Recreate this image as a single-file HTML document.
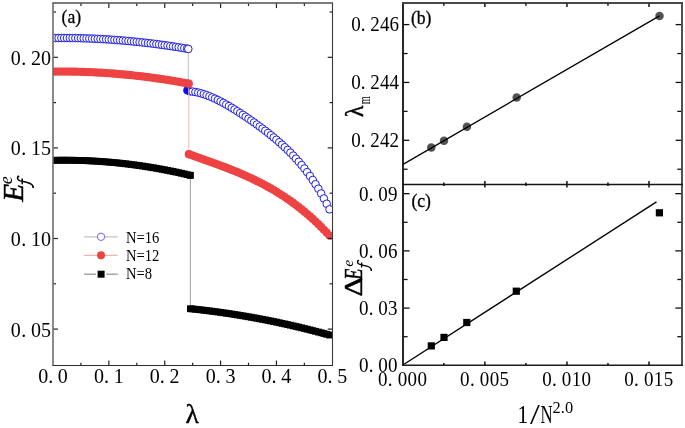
<!DOCTYPE html>
<html><head><meta charset="utf-8"><style>
html,body{margin:0;padding:0;background:#fff;width:685px;height:428px;overflow:hidden}
svg{display:block}
#w{transform:translateZ(0);width:685px;height:428px}
text{font-family:"Liberation Serif",serif}
</style></head><body><div id="w">
<svg width="685" height="428" viewBox="0 0 685 428">
<defs><clipPath id="ca"><rect x="53.6" y="3.6" width="278.4" height="361.2"/></clipPath></defs>
<g clip-path="url(#ca)">
<polyline fill="none" stroke="#c4c4c4" stroke-width="1.1" points="53.00,38.05 55.79,38.02 58.59,38.00 61.38,37.99 64.17,38.00 66.97,38.01 69.76,38.03 72.55,38.07 75.34,38.11 78.14,38.17 80.93,38.24 83.72,38.31 86.52,38.40 89.31,38.50 92.10,38.61 94.90,38.73 97.69,38.86 100.48,39.00 103.27,39.16 106.07,39.32 108.86,39.49 111.65,39.68 114.45,39.87 117.24,40.08 120.03,40.30 122.83,40.52 125.62,40.76 128.41,41.01 131.20,41.27 134.00,41.54 136.79,41.82 139.58,42.11 142.38,42.41 145.17,42.72 147.96,43.05 150.75,43.38 153.55,43.73 156.34,44.08 159.13,44.45 161.93,44.83 164.72,45.21 167.51,45.61 170.31,46.02 173.10,46.44 175.89,46.87 178.69,47.31 181.48,47.76 184.27,48.23 187.06,48.70 188.30,48.91 188.30,91.28 189.86,91.34 192.65,91.60 195.44,92.02 198.24,92.60 201.03,93.32 203.82,94.18 206.62,95.15 209.41,96.23 212.20,97.42 214.99,98.69 217.79,100.04 220.58,101.47 223.37,102.97 226.17,104.53 228.96,106.14 231.75,107.80 234.55,109.51 237.34,111.26 240.13,113.05 242.92,114.88 245.72,116.74 248.51,118.63 251.30,120.56 254.10,122.53 256.89,124.53 259.68,126.57 262.48,128.65 265.27,130.77 268.06,132.94 270.85,135.17 273.65,137.45 276.44,139.79 279.23,142.21 282.03,144.70 284.82,147.27 287.61,149.95 290.40,152.72 293.20,155.61 295.99,158.62 298.78,161.77 301.58,165.07 304.37,168.53 307.16,172.16 309.96,175.99 312.75,180.01 315.54,184.26 318.34,188.74 321.13,193.47 323.92,198.48 326.71,203.77 329.51,209.37"/>
<circle cx="53.00" cy="38.05" r="3.8" fill="#fff" stroke="#1212e6" stroke-width="0.95"/>
<circle cx="55.79" cy="38.02" r="3.8" fill="#fff" stroke="#1212e6" stroke-width="0.95"/>
<circle cx="58.59" cy="38.00" r="3.8" fill="#fff" stroke="#1212e6" stroke-width="0.95"/>
<circle cx="61.38" cy="37.99" r="3.8" fill="#fff" stroke="#1212e6" stroke-width="0.95"/>
<circle cx="64.17" cy="38.00" r="3.8" fill="#fff" stroke="#1212e6" stroke-width="0.95"/>
<circle cx="66.97" cy="38.01" r="3.8" fill="#fff" stroke="#1212e6" stroke-width="0.95"/>
<circle cx="69.76" cy="38.03" r="3.8" fill="#fff" stroke="#1212e6" stroke-width="0.95"/>
<circle cx="72.55" cy="38.07" r="3.8" fill="#fff" stroke="#1212e6" stroke-width="0.95"/>
<circle cx="75.34" cy="38.11" r="3.8" fill="#fff" stroke="#1212e6" stroke-width="0.95"/>
<circle cx="78.14" cy="38.17" r="3.8" fill="#fff" stroke="#1212e6" stroke-width="0.95"/>
<circle cx="80.93" cy="38.24" r="3.8" fill="#fff" stroke="#1212e6" stroke-width="0.95"/>
<circle cx="83.72" cy="38.31" r="3.8" fill="#fff" stroke="#1212e6" stroke-width="0.95"/>
<circle cx="86.52" cy="38.40" r="3.8" fill="#fff" stroke="#1212e6" stroke-width="0.95"/>
<circle cx="89.31" cy="38.50" r="3.8" fill="#fff" stroke="#1212e6" stroke-width="0.95"/>
<circle cx="92.10" cy="38.61" r="3.8" fill="#fff" stroke="#1212e6" stroke-width="0.95"/>
<circle cx="94.90" cy="38.73" r="3.8" fill="#fff" stroke="#1212e6" stroke-width="0.95"/>
<circle cx="97.69" cy="38.86" r="3.8" fill="#fff" stroke="#1212e6" stroke-width="0.95"/>
<circle cx="100.48" cy="39.00" r="3.8" fill="#fff" stroke="#1212e6" stroke-width="0.95"/>
<circle cx="103.27" cy="39.16" r="3.8" fill="#fff" stroke="#1212e6" stroke-width="0.95"/>
<circle cx="106.07" cy="39.32" r="3.8" fill="#fff" stroke="#1212e6" stroke-width="0.95"/>
<circle cx="108.86" cy="39.49" r="3.8" fill="#fff" stroke="#1212e6" stroke-width="0.95"/>
<circle cx="111.65" cy="39.68" r="3.8" fill="#fff" stroke="#1212e6" stroke-width="0.95"/>
<circle cx="114.45" cy="39.87" r="3.8" fill="#fff" stroke="#1212e6" stroke-width="0.95"/>
<circle cx="117.24" cy="40.08" r="3.8" fill="#fff" stroke="#1212e6" stroke-width="0.95"/>
<circle cx="120.03" cy="40.30" r="3.8" fill="#fff" stroke="#1212e6" stroke-width="0.95"/>
<circle cx="122.83" cy="40.52" r="3.8" fill="#fff" stroke="#1212e6" stroke-width="0.95"/>
<circle cx="125.62" cy="40.76" r="3.8" fill="#fff" stroke="#1212e6" stroke-width="0.95"/>
<circle cx="128.41" cy="41.01" r="3.8" fill="#fff" stroke="#1212e6" stroke-width="0.95"/>
<circle cx="131.20" cy="41.27" r="3.8" fill="#fff" stroke="#1212e6" stroke-width="0.95"/>
<circle cx="134.00" cy="41.54" r="3.8" fill="#fff" stroke="#1212e6" stroke-width="0.95"/>
<circle cx="136.79" cy="41.82" r="3.8" fill="#fff" stroke="#1212e6" stroke-width="0.95"/>
<circle cx="139.58" cy="42.11" r="3.8" fill="#fff" stroke="#1212e6" stroke-width="0.95"/>
<circle cx="142.38" cy="42.41" r="3.8" fill="#fff" stroke="#1212e6" stroke-width="0.95"/>
<circle cx="145.17" cy="42.72" r="3.8" fill="#fff" stroke="#1212e6" stroke-width="0.95"/>
<circle cx="147.96" cy="43.05" r="3.8" fill="#fff" stroke="#1212e6" stroke-width="0.95"/>
<circle cx="150.75" cy="43.38" r="3.8" fill="#fff" stroke="#1212e6" stroke-width="0.95"/>
<circle cx="153.55" cy="43.73" r="3.8" fill="#fff" stroke="#1212e6" stroke-width="0.95"/>
<circle cx="156.34" cy="44.08" r="3.8" fill="#fff" stroke="#1212e6" stroke-width="0.95"/>
<circle cx="159.13" cy="44.45" r="3.8" fill="#fff" stroke="#1212e6" stroke-width="0.95"/>
<circle cx="161.93" cy="44.83" r="3.8" fill="#fff" stroke="#1212e6" stroke-width="0.95"/>
<circle cx="164.72" cy="45.21" r="3.8" fill="#fff" stroke="#1212e6" stroke-width="0.95"/>
<circle cx="167.51" cy="45.61" r="3.8" fill="#fff" stroke="#1212e6" stroke-width="0.95"/>
<circle cx="170.31" cy="46.02" r="3.8" fill="#fff" stroke="#1212e6" stroke-width="0.95"/>
<circle cx="173.10" cy="46.44" r="3.8" fill="#fff" stroke="#1212e6" stroke-width="0.95"/>
<circle cx="175.89" cy="46.87" r="3.8" fill="#fff" stroke="#1212e6" stroke-width="0.95"/>
<circle cx="178.69" cy="47.31" r="3.8" fill="#fff" stroke="#1212e6" stroke-width="0.95"/>
<circle cx="181.48" cy="47.76" r="3.8" fill="#fff" stroke="#1212e6" stroke-width="0.95"/>
<circle cx="184.27" cy="48.23" r="3.8" fill="#fff" stroke="#1212e6" stroke-width="0.95"/>
<circle cx="187.06" cy="48.70" r="3.8" fill="#fff" stroke="#1212e6" stroke-width="0.95"/>
<circle cx="188.30" cy="48.91" r="3.8" fill="#fff" stroke="#1212e6" stroke-width="0.95"/>
<circle cx="189.86" cy="91.34" r="3.8" fill="#fff" stroke="#1212e6" stroke-width="0.95"/>
<circle cx="187.40" cy="90.40" r="3.8" fill="#0a0af0" stroke="#1212e6" stroke-width="0.95"/>
<circle cx="192.65" cy="91.60" r="3.8" fill="#fff" stroke="#1212e6" stroke-width="0.95"/>
<circle cx="195.44" cy="92.02" r="3.8" fill="#fff" stroke="#1212e6" stroke-width="0.95"/>
<circle cx="198.24" cy="92.60" r="3.8" fill="#fff" stroke="#1212e6" stroke-width="0.95"/>
<circle cx="201.03" cy="93.32" r="3.8" fill="#fff" stroke="#1212e6" stroke-width="0.95"/>
<circle cx="203.82" cy="94.18" r="3.8" fill="#fff" stroke="#1212e6" stroke-width="0.95"/>
<circle cx="206.62" cy="95.15" r="3.8" fill="#fff" stroke="#1212e6" stroke-width="0.95"/>
<circle cx="209.41" cy="96.23" r="3.8" fill="#fff" stroke="#1212e6" stroke-width="0.95"/>
<circle cx="212.20" cy="97.42" r="3.8" fill="#fff" stroke="#1212e6" stroke-width="0.95"/>
<circle cx="214.99" cy="98.69" r="3.8" fill="#fff" stroke="#1212e6" stroke-width="0.95"/>
<circle cx="217.79" cy="100.04" r="3.8" fill="#fff" stroke="#1212e6" stroke-width="0.95"/>
<circle cx="220.58" cy="101.47" r="3.8" fill="#fff" stroke="#1212e6" stroke-width="0.95"/>
<circle cx="223.37" cy="102.97" r="3.8" fill="#fff" stroke="#1212e6" stroke-width="0.95"/>
<circle cx="226.17" cy="104.53" r="3.8" fill="#fff" stroke="#1212e6" stroke-width="0.95"/>
<circle cx="228.96" cy="106.14" r="3.8" fill="#fff" stroke="#1212e6" stroke-width="0.95"/>
<circle cx="231.75" cy="107.80" r="3.8" fill="#fff" stroke="#1212e6" stroke-width="0.95"/>
<circle cx="234.55" cy="109.51" r="3.8" fill="#fff" stroke="#1212e6" stroke-width="0.95"/>
<circle cx="237.34" cy="111.26" r="3.8" fill="#fff" stroke="#1212e6" stroke-width="0.95"/>
<circle cx="240.13" cy="113.05" r="3.8" fill="#fff" stroke="#1212e6" stroke-width="0.95"/>
<circle cx="242.92" cy="114.88" r="3.8" fill="#fff" stroke="#1212e6" stroke-width="0.95"/>
<circle cx="245.72" cy="116.74" r="3.8" fill="#fff" stroke="#1212e6" stroke-width="0.95"/>
<circle cx="248.51" cy="118.63" r="3.8" fill="#fff" stroke="#1212e6" stroke-width="0.95"/>
<circle cx="251.30" cy="120.56" r="3.8" fill="#fff" stroke="#1212e6" stroke-width="0.95"/>
<circle cx="254.10" cy="122.53" r="3.8" fill="#fff" stroke="#1212e6" stroke-width="0.95"/>
<circle cx="256.89" cy="124.53" r="3.8" fill="#fff" stroke="#1212e6" stroke-width="0.95"/>
<circle cx="259.68" cy="126.57" r="3.8" fill="#fff" stroke="#1212e6" stroke-width="0.95"/>
<circle cx="262.48" cy="128.65" r="3.8" fill="#fff" stroke="#1212e6" stroke-width="0.95"/>
<circle cx="265.27" cy="130.77" r="3.8" fill="#fff" stroke="#1212e6" stroke-width="0.95"/>
<circle cx="268.06" cy="132.94" r="3.8" fill="#fff" stroke="#1212e6" stroke-width="0.95"/>
<circle cx="270.85" cy="135.17" r="3.8" fill="#fff" stroke="#1212e6" stroke-width="0.95"/>
<circle cx="273.65" cy="137.45" r="3.8" fill="#fff" stroke="#1212e6" stroke-width="0.95"/>
<circle cx="276.44" cy="139.79" r="3.8" fill="#fff" stroke="#1212e6" stroke-width="0.95"/>
<circle cx="279.23" cy="142.21" r="3.8" fill="#fff" stroke="#1212e6" stroke-width="0.95"/>
<circle cx="282.03" cy="144.70" r="3.8" fill="#fff" stroke="#1212e6" stroke-width="0.95"/>
<circle cx="284.82" cy="147.27" r="3.8" fill="#fff" stroke="#1212e6" stroke-width="0.95"/>
<circle cx="287.61" cy="149.95" r="3.8" fill="#fff" stroke="#1212e6" stroke-width="0.95"/>
<circle cx="290.40" cy="152.72" r="3.8" fill="#fff" stroke="#1212e6" stroke-width="0.95"/>
<circle cx="293.20" cy="155.61" r="3.8" fill="#fff" stroke="#1212e6" stroke-width="0.95"/>
<circle cx="295.99" cy="158.62" r="3.8" fill="#fff" stroke="#1212e6" stroke-width="0.95"/>
<circle cx="298.78" cy="161.77" r="3.8" fill="#fff" stroke="#1212e6" stroke-width="0.95"/>
<circle cx="301.58" cy="165.07" r="3.8" fill="#fff" stroke="#1212e6" stroke-width="0.95"/>
<circle cx="304.37" cy="168.53" r="3.8" fill="#fff" stroke="#1212e6" stroke-width="0.95"/>
<circle cx="307.16" cy="172.16" r="3.8" fill="#fff" stroke="#1212e6" stroke-width="0.95"/>
<circle cx="309.96" cy="175.99" r="3.8" fill="#fff" stroke="#1212e6" stroke-width="0.95"/>
<circle cx="312.75" cy="180.01" r="3.8" fill="#fff" stroke="#1212e6" stroke-width="0.95"/>
<circle cx="315.54" cy="184.26" r="3.8" fill="#fff" stroke="#1212e6" stroke-width="0.95"/>
<circle cx="318.34" cy="188.74" r="3.8" fill="#fff" stroke="#1212e6" stroke-width="0.95"/>
<circle cx="321.13" cy="193.47" r="3.8" fill="#fff" stroke="#1212e6" stroke-width="0.95"/>
<circle cx="323.92" cy="198.48" r="3.8" fill="#fff" stroke="#1212e6" stroke-width="0.95"/>
<circle cx="326.71" cy="203.77" r="3.8" fill="#fff" stroke="#1212e6" stroke-width="0.95"/>
<circle cx="329.51" cy="209.37" r="3.8" fill="#fff" stroke="#1212e6" stroke-width="0.95"/>
<polyline fill="none" stroke="#ebbcbc" stroke-width="1.0" points="53.00,71.61 55.79,71.59 58.59,71.57 61.38,71.56 64.17,71.57 66.97,71.59 69.76,71.62 72.55,71.66 75.34,71.71 78.14,71.77 80.93,71.85 83.72,71.94 86.52,72.04 89.31,72.15 92.10,72.27 94.90,72.40 97.69,72.55 100.48,72.71 103.27,72.87 106.07,73.05 108.86,73.25 111.65,73.45 114.45,73.66 117.24,73.89 120.03,74.13 122.83,74.38 125.62,74.64 128.41,74.91 131.20,75.20 134.00,75.49 136.79,75.80 139.58,76.12 142.38,76.45 145.17,76.79 147.96,77.15 150.75,77.51 153.55,77.89 156.34,78.28 159.13,78.68 161.93,79.09 164.72,79.51 167.51,79.95 170.31,80.39 173.10,80.85 175.89,81.32 178.69,81.80 181.48,82.30 184.27,82.80 187.06,83.32 188.80,83.64 188.80,154.22 189.86,154.60 192.65,155.59 195.44,156.58 198.24,157.57 201.03,158.56 203.82,159.55 206.62,160.54 209.41,161.53 212.20,162.53 214.99,163.54 217.79,164.57 220.58,165.60 223.37,166.65 226.17,167.71 228.96,168.79 231.75,169.89 234.55,171.02 237.34,172.16 240.13,173.33 242.92,174.53 245.72,175.76 248.51,177.02 251.30,178.32 254.10,179.64 256.89,181.01 259.68,182.41 262.48,183.86 265.27,185.34 268.06,186.88 270.85,188.45 273.65,190.08 276.44,191.75 279.23,193.48 282.03,195.26 284.82,197.10 287.61,199.00 290.40,200.95 293.20,202.97 295.99,205.05 298.78,207.19 301.58,209.40 304.37,211.68 307.16,214.03 309.96,216.46 312.75,218.95 315.54,221.53 318.34,224.18 321.13,226.91 323.92,229.73 326.71,232.63 329.51,235.61"/>
<circle cx="53.00" cy="71.61" r="4.1" fill="#ee4343"/>
<circle cx="55.79" cy="71.59" r="4.1" fill="#ee4343"/>
<circle cx="58.59" cy="71.57" r="4.1" fill="#ee4343"/>
<circle cx="61.38" cy="71.56" r="4.1" fill="#ee4343"/>
<circle cx="64.17" cy="71.57" r="4.1" fill="#ee4343"/>
<circle cx="66.97" cy="71.59" r="4.1" fill="#ee4343"/>
<circle cx="69.76" cy="71.62" r="4.1" fill="#ee4343"/>
<circle cx="72.55" cy="71.66" r="4.1" fill="#ee4343"/>
<circle cx="75.34" cy="71.71" r="4.1" fill="#ee4343"/>
<circle cx="78.14" cy="71.77" r="4.1" fill="#ee4343"/>
<circle cx="80.93" cy="71.85" r="4.1" fill="#ee4343"/>
<circle cx="83.72" cy="71.94" r="4.1" fill="#ee4343"/>
<circle cx="86.52" cy="72.04" r="4.1" fill="#ee4343"/>
<circle cx="89.31" cy="72.15" r="4.1" fill="#ee4343"/>
<circle cx="92.10" cy="72.27" r="4.1" fill="#ee4343"/>
<circle cx="94.90" cy="72.40" r="4.1" fill="#ee4343"/>
<circle cx="97.69" cy="72.55" r="4.1" fill="#ee4343"/>
<circle cx="100.48" cy="72.71" r="4.1" fill="#ee4343"/>
<circle cx="103.27" cy="72.87" r="4.1" fill="#ee4343"/>
<circle cx="106.07" cy="73.05" r="4.1" fill="#ee4343"/>
<circle cx="108.86" cy="73.25" r="4.1" fill="#ee4343"/>
<circle cx="111.65" cy="73.45" r="4.1" fill="#ee4343"/>
<circle cx="114.45" cy="73.66" r="4.1" fill="#ee4343"/>
<circle cx="117.24" cy="73.89" r="4.1" fill="#ee4343"/>
<circle cx="120.03" cy="74.13" r="4.1" fill="#ee4343"/>
<circle cx="122.83" cy="74.38" r="4.1" fill="#ee4343"/>
<circle cx="125.62" cy="74.64" r="4.1" fill="#ee4343"/>
<circle cx="128.41" cy="74.91" r="4.1" fill="#ee4343"/>
<circle cx="131.20" cy="75.20" r="4.1" fill="#ee4343"/>
<circle cx="134.00" cy="75.49" r="4.1" fill="#ee4343"/>
<circle cx="136.79" cy="75.80" r="4.1" fill="#ee4343"/>
<circle cx="139.58" cy="76.12" r="4.1" fill="#ee4343"/>
<circle cx="142.38" cy="76.45" r="4.1" fill="#ee4343"/>
<circle cx="145.17" cy="76.79" r="4.1" fill="#ee4343"/>
<circle cx="147.96" cy="77.15" r="4.1" fill="#ee4343"/>
<circle cx="150.75" cy="77.51" r="4.1" fill="#ee4343"/>
<circle cx="153.55" cy="77.89" r="4.1" fill="#ee4343"/>
<circle cx="156.34" cy="78.28" r="4.1" fill="#ee4343"/>
<circle cx="159.13" cy="78.68" r="4.1" fill="#ee4343"/>
<circle cx="161.93" cy="79.09" r="4.1" fill="#ee4343"/>
<circle cx="164.72" cy="79.51" r="4.1" fill="#ee4343"/>
<circle cx="167.51" cy="79.95" r="4.1" fill="#ee4343"/>
<circle cx="170.31" cy="80.39" r="4.1" fill="#ee4343"/>
<circle cx="173.10" cy="80.85" r="4.1" fill="#ee4343"/>
<circle cx="175.89" cy="81.32" r="4.1" fill="#ee4343"/>
<circle cx="178.69" cy="81.80" r="4.1" fill="#ee4343"/>
<circle cx="181.48" cy="82.30" r="4.1" fill="#ee4343"/>
<circle cx="184.27" cy="82.80" r="4.1" fill="#ee4343"/>
<circle cx="187.06" cy="83.32" r="4.1" fill="#ee4343"/>
<circle cx="188.80" cy="83.64" r="4.1" fill="#ee4343"/>
<circle cx="188.80" cy="154.22" r="4.1" fill="#ee4343"/>
<circle cx="189.86" cy="154.60" r="4.1" fill="#ee4343"/>
<circle cx="192.65" cy="155.59" r="4.1" fill="#ee4343"/>
<circle cx="195.44" cy="156.58" r="4.1" fill="#ee4343"/>
<circle cx="198.24" cy="157.57" r="4.1" fill="#ee4343"/>
<circle cx="201.03" cy="158.56" r="4.1" fill="#ee4343"/>
<circle cx="203.82" cy="159.55" r="4.1" fill="#ee4343"/>
<circle cx="206.62" cy="160.54" r="4.1" fill="#ee4343"/>
<circle cx="209.41" cy="161.53" r="4.1" fill="#ee4343"/>
<circle cx="212.20" cy="162.53" r="4.1" fill="#ee4343"/>
<circle cx="214.99" cy="163.54" r="4.1" fill="#ee4343"/>
<circle cx="217.79" cy="164.57" r="4.1" fill="#ee4343"/>
<circle cx="220.58" cy="165.60" r="4.1" fill="#ee4343"/>
<circle cx="223.37" cy="166.65" r="4.1" fill="#ee4343"/>
<circle cx="226.17" cy="167.71" r="4.1" fill="#ee4343"/>
<circle cx="228.96" cy="168.79" r="4.1" fill="#ee4343"/>
<circle cx="231.75" cy="169.89" r="4.1" fill="#ee4343"/>
<circle cx="234.55" cy="171.02" r="4.1" fill="#ee4343"/>
<circle cx="237.34" cy="172.16" r="4.1" fill="#ee4343"/>
<circle cx="240.13" cy="173.33" r="4.1" fill="#ee4343"/>
<circle cx="242.92" cy="174.53" r="4.1" fill="#ee4343"/>
<circle cx="245.72" cy="175.76" r="4.1" fill="#ee4343"/>
<circle cx="248.51" cy="177.02" r="4.1" fill="#ee4343"/>
<circle cx="251.30" cy="178.32" r="4.1" fill="#ee4343"/>
<circle cx="254.10" cy="179.64" r="4.1" fill="#ee4343"/>
<circle cx="256.89" cy="181.01" r="4.1" fill="#ee4343"/>
<circle cx="259.68" cy="182.41" r="4.1" fill="#ee4343"/>
<circle cx="262.48" cy="183.86" r="4.1" fill="#ee4343"/>
<circle cx="265.27" cy="185.34" r="4.1" fill="#ee4343"/>
<circle cx="268.06" cy="186.88" r="4.1" fill="#ee4343"/>
<circle cx="270.85" cy="188.45" r="4.1" fill="#ee4343"/>
<circle cx="273.65" cy="190.08" r="4.1" fill="#ee4343"/>
<circle cx="276.44" cy="191.75" r="4.1" fill="#ee4343"/>
<circle cx="279.23" cy="193.48" r="4.1" fill="#ee4343"/>
<circle cx="282.03" cy="195.26" r="4.1" fill="#ee4343"/>
<circle cx="284.82" cy="197.10" r="4.1" fill="#ee4343"/>
<circle cx="287.61" cy="199.00" r="4.1" fill="#ee4343"/>
<circle cx="290.40" cy="200.95" r="4.1" fill="#ee4343"/>
<circle cx="293.20" cy="202.97" r="4.1" fill="#ee4343"/>
<circle cx="295.99" cy="205.05" r="4.1" fill="#ee4343"/>
<circle cx="298.78" cy="207.19" r="4.1" fill="#ee4343"/>
<circle cx="301.58" cy="209.40" r="4.1" fill="#ee4343"/>
<circle cx="304.37" cy="211.68" r="4.1" fill="#ee4343"/>
<circle cx="307.16" cy="214.03" r="4.1" fill="#ee4343"/>
<circle cx="309.96" cy="216.46" r="4.1" fill="#ee4343"/>
<circle cx="312.75" cy="218.95" r="4.1" fill="#ee4343"/>
<circle cx="315.54" cy="221.53" r="4.1" fill="#ee4343"/>
<circle cx="318.34" cy="224.18" r="4.1" fill="#ee4343"/>
<circle cx="321.13" cy="226.91" r="4.1" fill="#ee4343"/>
<circle cx="323.92" cy="229.73" r="4.1" fill="#ee4343"/>
<circle cx="326.71" cy="232.63" r="4.1" fill="#ee4343"/>
<circle cx="329.51" cy="235.61" r="4.1" fill="#ee4343"/>
<polyline fill="none" stroke="#a8a8a8" stroke-width="1.1" points="53.00,160.33 55.79,160.28 58.59,160.24 61.38,160.22 64.17,160.21 66.97,160.22 69.76,160.24 72.55,160.28 75.34,160.33 78.14,160.40 80.93,160.48 83.72,160.57 86.52,160.68 89.31,160.81 92.10,160.95 94.90,161.11 97.69,161.28 100.48,161.46 103.27,161.66 106.07,161.88 108.86,162.11 111.65,162.35 114.45,162.61 117.24,162.88 120.03,163.17 122.83,163.48 125.62,163.80 128.41,164.13 131.20,164.48 134.00,164.84 136.79,165.22 139.58,165.61 142.38,166.02 145.17,166.44 147.96,166.88 150.75,167.34 153.55,167.80 156.34,168.28 159.13,168.78 161.93,169.29 164.72,169.82 167.51,170.36 170.31,170.92 173.10,171.49 175.89,172.08 178.69,172.68 181.48,173.29 184.27,173.92 187.06,174.57 189.86,175.23 190.40,175.36 190.40,308.73 192.65,308.96 195.44,309.26 198.24,309.57 201.03,309.89 203.82,310.21 206.62,310.55 209.41,310.90 212.20,311.25 214.99,311.62 217.79,311.99 220.58,312.38 223.37,312.78 226.17,313.18 228.96,313.60 231.75,314.02 234.55,314.46 237.34,314.90 240.13,315.35 242.92,315.82 245.72,316.29 248.51,316.77 251.30,317.27 254.10,317.77 256.89,318.28 259.68,318.81 262.48,319.34 265.27,319.88 268.06,320.43 270.85,320.99 273.65,321.56 276.44,322.14 279.23,322.74 282.03,323.34 284.82,323.95 287.61,324.57 290.40,325.20 293.20,325.84 295.99,326.48 298.78,327.14 301.58,327.81 304.37,328.49 307.16,329.18 309.96,329.88 312.75,330.59 315.54,331.30 318.34,332.03 321.13,332.77 323.92,333.51 326.71,334.27 329.51,335.04"/>
<rect x="49.60" y="156.93" width="6.8" height="6.8" fill="#000"/>
<rect x="52.39" y="156.88" width="6.8" height="6.8" fill="#000"/>
<rect x="55.19" y="156.84" width="6.8" height="6.8" fill="#000"/>
<rect x="57.98" y="156.82" width="6.8" height="6.8" fill="#000"/>
<rect x="60.77" y="156.81" width="6.8" height="6.8" fill="#000"/>
<rect x="63.57" y="156.82" width="6.8" height="6.8" fill="#000"/>
<rect x="66.36" y="156.84" width="6.8" height="6.8" fill="#000"/>
<rect x="69.15" y="156.88" width="6.8" height="6.8" fill="#000"/>
<rect x="71.94" y="156.93" width="6.8" height="6.8" fill="#000"/>
<rect x="74.74" y="157.00" width="6.8" height="6.8" fill="#000"/>
<rect x="77.53" y="157.08" width="6.8" height="6.8" fill="#000"/>
<rect x="80.32" y="157.17" width="6.8" height="6.8" fill="#000"/>
<rect x="83.12" y="157.28" width="6.8" height="6.8" fill="#000"/>
<rect x="85.91" y="157.41" width="6.8" height="6.8" fill="#000"/>
<rect x="88.70" y="157.55" width="6.8" height="6.8" fill="#000"/>
<rect x="91.50" y="157.71" width="6.8" height="6.8" fill="#000"/>
<rect x="94.29" y="157.88" width="6.8" height="6.8" fill="#000"/>
<rect x="97.08" y="158.06" width="6.8" height="6.8" fill="#000"/>
<rect x="99.87" y="158.26" width="6.8" height="6.8" fill="#000"/>
<rect x="102.67" y="158.48" width="6.8" height="6.8" fill="#000"/>
<rect x="105.46" y="158.71" width="6.8" height="6.8" fill="#000"/>
<rect x="108.25" y="158.95" width="6.8" height="6.8" fill="#000"/>
<rect x="111.05" y="159.21" width="6.8" height="6.8" fill="#000"/>
<rect x="113.84" y="159.48" width="6.8" height="6.8" fill="#000"/>
<rect x="116.63" y="159.77" width="6.8" height="6.8" fill="#000"/>
<rect x="119.42" y="160.08" width="6.8" height="6.8" fill="#000"/>
<rect x="122.22" y="160.40" width="6.8" height="6.8" fill="#000"/>
<rect x="125.01" y="160.73" width="6.8" height="6.8" fill="#000"/>
<rect x="127.80" y="161.08" width="6.8" height="6.8" fill="#000"/>
<rect x="130.60" y="161.44" width="6.8" height="6.8" fill="#000"/>
<rect x="133.39" y="161.82" width="6.8" height="6.8" fill="#000"/>
<rect x="136.18" y="162.21" width="6.8" height="6.8" fill="#000"/>
<rect x="138.98" y="162.62" width="6.8" height="6.8" fill="#000"/>
<rect x="141.77" y="163.04" width="6.8" height="6.8" fill="#000"/>
<rect x="144.56" y="163.48" width="6.8" height="6.8" fill="#000"/>
<rect x="147.35" y="163.94" width="6.8" height="6.8" fill="#000"/>
<rect x="150.15" y="164.40" width="6.8" height="6.8" fill="#000"/>
<rect x="152.94" y="164.88" width="6.8" height="6.8" fill="#000"/>
<rect x="155.73" y="165.38" width="6.8" height="6.8" fill="#000"/>
<rect x="158.53" y="165.89" width="6.8" height="6.8" fill="#000"/>
<rect x="161.32" y="166.42" width="6.8" height="6.8" fill="#000"/>
<rect x="164.11" y="166.96" width="6.8" height="6.8" fill="#000"/>
<rect x="166.91" y="167.52" width="6.8" height="6.8" fill="#000"/>
<rect x="169.70" y="168.09" width="6.8" height="6.8" fill="#000"/>
<rect x="172.49" y="168.68" width="6.8" height="6.8" fill="#000"/>
<rect x="175.28" y="169.28" width="6.8" height="6.8" fill="#000"/>
<rect x="178.08" y="169.89" width="6.8" height="6.8" fill="#000"/>
<rect x="180.87" y="170.52" width="6.8" height="6.8" fill="#000"/>
<rect x="183.66" y="171.17" width="6.8" height="6.8" fill="#000"/>
<rect x="186.46" y="171.83" width="6.8" height="6.8" fill="#000"/>
<rect x="187.00" y="171.96" width="6.8" height="6.8" fill="#000"/>
<rect x="187.00" y="305.33" width="6.8" height="6.8" fill="#000"/>
<rect x="189.25" y="305.56" width="6.8" height="6.8" fill="#000"/>
<rect x="192.04" y="305.86" width="6.8" height="6.8" fill="#000"/>
<rect x="194.84" y="306.17" width="6.8" height="6.8" fill="#000"/>
<rect x="197.63" y="306.49" width="6.8" height="6.8" fill="#000"/>
<rect x="200.42" y="306.81" width="6.8" height="6.8" fill="#000"/>
<rect x="203.22" y="307.15" width="6.8" height="6.8" fill="#000"/>
<rect x="206.01" y="307.50" width="6.8" height="6.8" fill="#000"/>
<rect x="208.80" y="307.85" width="6.8" height="6.8" fill="#000"/>
<rect x="211.59" y="308.22" width="6.8" height="6.8" fill="#000"/>
<rect x="214.39" y="308.59" width="6.8" height="6.8" fill="#000"/>
<rect x="217.18" y="308.98" width="6.8" height="6.8" fill="#000"/>
<rect x="219.97" y="309.38" width="6.8" height="6.8" fill="#000"/>
<rect x="222.77" y="309.78" width="6.8" height="6.8" fill="#000"/>
<rect x="225.56" y="310.20" width="6.8" height="6.8" fill="#000"/>
<rect x="228.35" y="310.62" width="6.8" height="6.8" fill="#000"/>
<rect x="231.15" y="311.06" width="6.8" height="6.8" fill="#000"/>
<rect x="233.94" y="311.50" width="6.8" height="6.8" fill="#000"/>
<rect x="236.73" y="311.95" width="6.8" height="6.8" fill="#000"/>
<rect x="239.52" y="312.42" width="6.8" height="6.8" fill="#000"/>
<rect x="242.32" y="312.89" width="6.8" height="6.8" fill="#000"/>
<rect x="245.11" y="313.37" width="6.8" height="6.8" fill="#000"/>
<rect x="247.90" y="313.87" width="6.8" height="6.8" fill="#000"/>
<rect x="250.70" y="314.37" width="6.8" height="6.8" fill="#000"/>
<rect x="253.49" y="314.88" width="6.8" height="6.8" fill="#000"/>
<rect x="256.28" y="315.41" width="6.8" height="6.8" fill="#000"/>
<rect x="259.08" y="315.94" width="6.8" height="6.8" fill="#000"/>
<rect x="261.87" y="316.48" width="6.8" height="6.8" fill="#000"/>
<rect x="264.66" y="317.03" width="6.8" height="6.8" fill="#000"/>
<rect x="267.45" y="317.59" width="6.8" height="6.8" fill="#000"/>
<rect x="270.25" y="318.16" width="6.8" height="6.8" fill="#000"/>
<rect x="273.04" y="318.74" width="6.8" height="6.8" fill="#000"/>
<rect x="275.83" y="319.34" width="6.8" height="6.8" fill="#000"/>
<rect x="278.63" y="319.94" width="6.8" height="6.8" fill="#000"/>
<rect x="281.42" y="320.55" width="6.8" height="6.8" fill="#000"/>
<rect x="284.21" y="321.17" width="6.8" height="6.8" fill="#000"/>
<rect x="287.00" y="321.80" width="6.8" height="6.8" fill="#000"/>
<rect x="289.80" y="322.44" width="6.8" height="6.8" fill="#000"/>
<rect x="292.59" y="323.08" width="6.8" height="6.8" fill="#000"/>
<rect x="295.38" y="323.74" width="6.8" height="6.8" fill="#000"/>
<rect x="298.18" y="324.41" width="6.8" height="6.8" fill="#000"/>
<rect x="300.97" y="325.09" width="6.8" height="6.8" fill="#000"/>
<rect x="303.76" y="325.78" width="6.8" height="6.8" fill="#000"/>
<rect x="306.56" y="326.48" width="6.8" height="6.8" fill="#000"/>
<rect x="309.35" y="327.19" width="6.8" height="6.8" fill="#000"/>
<rect x="312.14" y="327.90" width="6.8" height="6.8" fill="#000"/>
<rect x="314.94" y="328.63" width="6.8" height="6.8" fill="#000"/>
<rect x="317.73" y="329.37" width="6.8" height="6.8" fill="#000"/>
<rect x="320.52" y="330.11" width="6.8" height="6.8" fill="#000"/>
<rect x="323.31" y="330.87" width="6.8" height="6.8" fill="#000"/>
<rect x="326.11" y="331.64" width="6.8" height="6.8" fill="#000"/>
</g>
<line x1="53.00" y1="3.00" x2="53.00" y2="365.50" stroke="#505050" stroke-width="1.35" />
<line x1="332.50" y1="3.00" x2="332.50" y2="365.50" stroke="#3a3a3a" stroke-width="1.1" />
<line x1="52.40" y1="3.00" x2="333.00" y2="3.00" stroke="#505050" stroke-width="1.35" />
<line x1="52.40" y1="365.50" x2="333.00" y2="365.50" stroke="#2a2a2a" stroke-width="1.1" />
<line x1="80.93" y1="365.00" x2="80.93" y2="362.70" stroke="#222" stroke-width="1.2" />
<line x1="80.93" y1="3.60" x2="80.93" y2="5.90" stroke="#222" stroke-width="1.2" />
<line x1="108.86" y1="365.00" x2="108.86" y2="360.50" stroke="#222" stroke-width="1.2" />
<line x1="108.86" y1="3.60" x2="108.86" y2="8.10" stroke="#222" stroke-width="1.2" />
<line x1="136.79" y1="365.00" x2="136.79" y2="362.70" stroke="#222" stroke-width="1.2" />
<line x1="136.79" y1="3.60" x2="136.79" y2="5.90" stroke="#222" stroke-width="1.2" />
<line x1="164.72" y1="365.00" x2="164.72" y2="360.50" stroke="#222" stroke-width="1.2" />
<line x1="164.72" y1="3.60" x2="164.72" y2="8.10" stroke="#222" stroke-width="1.2" />
<line x1="192.65" y1="365.00" x2="192.65" y2="362.70" stroke="#222" stroke-width="1.2" />
<line x1="192.65" y1="3.60" x2="192.65" y2="5.90" stroke="#222" stroke-width="1.2" />
<line x1="220.58" y1="365.00" x2="220.58" y2="360.50" stroke="#222" stroke-width="1.2" />
<line x1="220.58" y1="3.60" x2="220.58" y2="8.10" stroke="#222" stroke-width="1.2" />
<line x1="248.51" y1="365.00" x2="248.51" y2="362.70" stroke="#222" stroke-width="1.2" />
<line x1="248.51" y1="3.60" x2="248.51" y2="5.90" stroke="#222" stroke-width="1.2" />
<line x1="276.44" y1="365.00" x2="276.44" y2="360.50" stroke="#222" stroke-width="1.2" />
<line x1="276.44" y1="3.60" x2="276.44" y2="8.10" stroke="#222" stroke-width="1.2" />
<line x1="304.37" y1="365.00" x2="304.37" y2="362.70" stroke="#222" stroke-width="1.2" />
<line x1="304.37" y1="3.60" x2="304.37" y2="5.90" stroke="#222" stroke-width="1.2" />
<line x1="53.60" y1="329.10" x2="57.90" y2="329.10" stroke="#222" stroke-width="1.2" />
<line x1="332.00" y1="329.10" x2="327.70" y2="329.10" stroke="#222" stroke-width="1.2" />
<line x1="53.60" y1="283.80" x2="56.00" y2="283.80" stroke="#222" stroke-width="1.2" />
<line x1="332.00" y1="283.80" x2="329.60" y2="283.80" stroke="#222" stroke-width="1.2" />
<line x1="53.60" y1="238.50" x2="57.90" y2="238.50" stroke="#222" stroke-width="1.2" />
<line x1="332.00" y1="238.50" x2="327.70" y2="238.50" stroke="#222" stroke-width="1.2" />
<line x1="53.60" y1="193.20" x2="56.00" y2="193.20" stroke="#222" stroke-width="1.2" />
<line x1="332.00" y1="193.20" x2="329.60" y2="193.20" stroke="#222" stroke-width="1.2" />
<line x1="53.60" y1="147.90" x2="57.90" y2="147.90" stroke="#222" stroke-width="1.2" />
<line x1="332.00" y1="147.90" x2="327.70" y2="147.90" stroke="#222" stroke-width="1.2" />
<line x1="53.60" y1="102.60" x2="56.00" y2="102.60" stroke="#222" stroke-width="1.2" />
<line x1="332.00" y1="102.60" x2="329.60" y2="102.60" stroke="#222" stroke-width="1.2" />
<line x1="53.60" y1="57.30" x2="57.90" y2="57.30" stroke="#222" stroke-width="1.2" />
<line x1="332.00" y1="57.30" x2="327.70" y2="57.30" stroke="#222" stroke-width="1.2" />
<line x1="53.60" y1="12.00" x2="56.00" y2="12.00" stroke="#222" stroke-width="1.2" />
<line x1="332.00" y1="12.00" x2="329.60" y2="12.00" stroke="#222" stroke-width="1.2" />
<text transform="translate(43.15,382.50) scale(0.92,1)" font-size="21.8" text-anchor="middle" fill="#000" >0</text>
<text transform="translate(48.15,382.50) scale(0.92,1)" font-size="21.8" text-anchor="start" fill="#000" >.</text>
<text transform="translate(62.85,382.50) scale(0.92,1)" font-size="21.8" text-anchor="middle" fill="#000" >0</text>
<text transform="translate(99.01,382.50) scale(0.92,1)" font-size="21.8" text-anchor="middle" fill="#000" >0</text>
<text transform="translate(104.01,382.50) scale(0.92,1)" font-size="21.8" text-anchor="start" fill="#000" >.</text>
<text transform="translate(118.71,382.50) scale(0.92,1)" font-size="21.8" text-anchor="middle" fill="#000" >1</text>
<text transform="translate(154.87,382.50) scale(0.92,1)" font-size="21.8" text-anchor="middle" fill="#000" >0</text>
<text transform="translate(159.87,382.50) scale(0.92,1)" font-size="21.8" text-anchor="start" fill="#000" >.</text>
<text transform="translate(174.57,382.50) scale(0.92,1)" font-size="21.8" text-anchor="middle" fill="#000" >2</text>
<text transform="translate(210.73,382.50) scale(0.92,1)" font-size="21.8" text-anchor="middle" fill="#000" >0</text>
<text transform="translate(215.73,382.50) scale(0.92,1)" font-size="21.8" text-anchor="start" fill="#000" >.</text>
<text transform="translate(230.43,382.50) scale(0.92,1)" font-size="21.8" text-anchor="middle" fill="#000" >3</text>
<text transform="translate(266.59,382.50) scale(0.92,1)" font-size="21.8" text-anchor="middle" fill="#000" >0</text>
<text transform="translate(271.59,382.50) scale(0.92,1)" font-size="21.8" text-anchor="start" fill="#000" >.</text>
<text transform="translate(286.29,382.50) scale(0.92,1)" font-size="21.8" text-anchor="middle" fill="#000" >4</text>
<text transform="translate(322.45,382.50) scale(0.92,1)" font-size="21.8" text-anchor="middle" fill="#000" >0</text>
<text transform="translate(327.45,382.50) scale(0.92,1)" font-size="21.8" text-anchor="start" fill="#000" >.</text>
<text transform="translate(342.15,382.50) scale(0.92,1)" font-size="21.8" text-anchor="middle" fill="#000" >5</text>
<text transform="translate(15.80,64.80) scale(0.92,1)" font-size="21.8" text-anchor="middle" fill="#000" >0</text>
<text transform="translate(21.33,64.80) scale(0.92,1)" font-size="21.8" text-anchor="start" fill="#000" >.</text>
<text transform="translate(36.00,64.80) scale(0.92,1)" font-size="21.8" text-anchor="middle" fill="#000" >2</text>
<text transform="translate(46.10,64.80) scale(0.92,1)" font-size="21.8" text-anchor="middle" fill="#000" >0</text>
<text transform="translate(15.80,155.40) scale(0.92,1)" font-size="21.8" text-anchor="middle" fill="#000" >0</text>
<text transform="translate(21.33,155.40) scale(0.92,1)" font-size="21.8" text-anchor="start" fill="#000" >.</text>
<text transform="translate(36.00,155.40) scale(0.92,1)" font-size="21.8" text-anchor="middle" fill="#000" >1</text>
<text transform="translate(46.10,155.40) scale(0.92,1)" font-size="21.8" text-anchor="middle" fill="#000" >5</text>
<text transform="translate(15.80,246.00) scale(0.92,1)" font-size="21.8" text-anchor="middle" fill="#000" >0</text>
<text transform="translate(21.33,246.00) scale(0.92,1)" font-size="21.8" text-anchor="start" fill="#000" >.</text>
<text transform="translate(36.00,246.00) scale(0.92,1)" font-size="21.8" text-anchor="middle" fill="#000" >1</text>
<text transform="translate(46.10,246.00) scale(0.92,1)" font-size="21.8" text-anchor="middle" fill="#000" >0</text>
<text transform="translate(15.80,336.60) scale(0.92,1)" font-size="21.8" text-anchor="middle" fill="#000" >0</text>
<text transform="translate(21.33,336.60) scale(0.92,1)" font-size="21.8" text-anchor="start" fill="#000" >.</text>
<text transform="translate(36.00,336.60) scale(0.92,1)" font-size="21.8" text-anchor="middle" fill="#000" >0</text>
<text transform="translate(46.10,336.60) scale(0.92,1)" font-size="21.8" text-anchor="middle" fill="#000" >5</text>
<text transform="translate(61.5,22.55) scale(0.93,1)" font-size="19" stroke="#000" stroke-width="0.3">(a)</text>
<line x1="84.10" y1="236.80" x2="117.70" y2="236.80" stroke="#c4c4c4" stroke-width="1.3" />
<circle cx="101" cy="236.8" r="3.7" fill="#fff" stroke="#5a5aee" stroke-width="0.9"/>
<line x1="84.10" y1="255.30" x2="117.70" y2="255.30" stroke="#f2a0a0" stroke-width="1.0" />
<circle cx="101" cy="255.3" r="4.0" fill="#ee4343"/>
<line x1="84.10" y1="274.20" x2="96.00" y2="274.20" stroke="#a0a0a0" stroke-width="1.4" />
<line x1="106.20" y1="274.20" x2="117.70" y2="274.20" stroke="#a0a0a0" stroke-width="1.4" />
<rect x="97.6" y="270.7" width="7" height="7" fill="#000"/>
<text transform="translate(126.0,242.7) scale(0.85,1)" font-size="17.2">N=16</text>
<text transform="translate(126.0,260.7) scale(0.85,1)" font-size="17.2">N=12</text>
<text transform="translate(126.0,279.4) scale(0.85,1)" font-size="17.2">N=8</text>
<text transform="translate(23.2,201.75) rotate(-90)" font-size="29.5" font-style="italic" stroke="#000" stroke-width="0.45">E</text>
<text transform="translate(11.9,184.3) rotate(-90)" font-size="18" font-style="italic">e</text>
<g transform="translate(18.2,176.5) scale(1.0)" fill="none" stroke="#000" stroke-linecap="round"><path d="M0,0 C-1.2,1.2 -1.0,3.2 1.4,4.1 C4,5 7,5.4 9.8,6.2 C12.5,7 14.6,8.2 15,10.4" stroke-width="1.45"/><path d="M4,2.6 L4,7.2" stroke-width="1.5"/><circle cx="0.1" cy="0" r="1.05" fill="#000" stroke="none"/><circle cx="14.9" cy="10.6" r="1.0" fill="#000" stroke="none"/></g>
<text x="185.6" y="423.1" font-size="27.6" stroke="#000" stroke-width="0.4">λ</text>
<line x1="402.90" y1="365.00" x2="656.50" y2="201.90" stroke="#000" stroke-width="1.35" />
<circle cx="431.3" cy="147.6" r="4.25" fill="#4a4a4a" fill-opacity="0.95"/>
<circle cx="444.0" cy="140.8" r="4.25" fill="#4a4a4a" fill-opacity="0.95"/>
<circle cx="466.9" cy="126.7" r="4.25" fill="#4a4a4a" fill-opacity="0.95"/>
<circle cx="516.7" cy="97.5" r="4.25" fill="#4a4a4a" fill-opacity="0.95"/>
<circle cx="659.5" cy="15.9" r="4.25" fill="#4a4a4a" fill-opacity="0.95"/>
<line x1="402.60" y1="164.60" x2="659.50" y2="15.90" stroke="#000" stroke-width="1.25" />
<rect x="427.70" y="342.30" width="7.2" height="7.2" fill="#000"/>
<rect x="440.40" y="333.80" width="7.2" height="7.2" fill="#000"/>
<rect x="463.20" y="318.90" width="7.2" height="7.2" fill="#000"/>
<rect x="512.70" y="287.60" width="7.2" height="7.2" fill="#000"/>
<rect x="655.80" y="209.20" width="7.2" height="7.2" fill="#000"/>
<line x1="403.00" y1="2.00" x2="403.00" y2="366.00" stroke="#1c1c1c" stroke-width="1.9" />
<line x1="682.00" y1="2.00" x2="682.00" y2="366.00" stroke="#484848" stroke-width="1.9" />
<line x1="402.00" y1="3.00" x2="683.00" y2="3.00" stroke="#484848" stroke-width="1.9" />
<line x1="402.00" y1="184.40" x2="683.00" y2="184.40" stroke="#141414" stroke-width="1.5" />
<line x1="402.00" y1="365.30" x2="683.00" y2="365.30" stroke="#1c1c1c" stroke-width="1.5" />
<line x1="443.83" y1="3.50" x2="443.83" y2="5.70" stroke="#111" stroke-width="1.5" />
<line x1="443.83" y1="182.50" x2="443.83" y2="186.10" stroke="#111" stroke-width="1.5" />
<line x1="443.83" y1="365.00" x2="443.83" y2="363.00" stroke="#111" stroke-width="1.5" />
<line x1="484.87" y1="3.50" x2="484.87" y2="7.10" stroke="#111" stroke-width="1.5" />
<line x1="484.87" y1="181.10" x2="484.87" y2="187.50" stroke="#111" stroke-width="1.5" />
<line x1="484.87" y1="365.00" x2="484.87" y2="361.60" stroke="#111" stroke-width="1.5" />
<line x1="525.90" y1="3.50" x2="525.90" y2="5.70" stroke="#111" stroke-width="1.5" />
<line x1="525.90" y1="182.50" x2="525.90" y2="186.10" stroke="#111" stroke-width="1.5" />
<line x1="525.90" y1="365.00" x2="525.90" y2="363.00" stroke="#111" stroke-width="1.5" />
<line x1="566.93" y1="3.50" x2="566.93" y2="7.10" stroke="#111" stroke-width="1.5" />
<line x1="566.93" y1="181.10" x2="566.93" y2="187.50" stroke="#111" stroke-width="1.5" />
<line x1="566.93" y1="365.00" x2="566.93" y2="361.60" stroke="#111" stroke-width="1.5" />
<line x1="607.96" y1="3.50" x2="607.96" y2="5.70" stroke="#111" stroke-width="1.5" />
<line x1="607.96" y1="182.50" x2="607.96" y2="186.10" stroke="#111" stroke-width="1.5" />
<line x1="607.96" y1="365.00" x2="607.96" y2="363.00" stroke="#111" stroke-width="1.5" />
<line x1="649.00" y1="3.50" x2="649.00" y2="7.10" stroke="#111" stroke-width="1.5" />
<line x1="649.00" y1="181.10" x2="649.00" y2="187.50" stroke="#111" stroke-width="1.5" />
<line x1="649.00" y1="365.00" x2="649.00" y2="361.60" stroke="#111" stroke-width="1.5" />
<line x1="403.80" y1="24.60" x2="409.30" y2="24.60" stroke="#111" stroke-width="1.3" />
<line x1="681.10" y1="24.60" x2="675.60" y2="24.60" stroke="#111" stroke-width="1.3" />
<line x1="403.80" y1="53.53" x2="407.60" y2="53.53" stroke="#111" stroke-width="1.3" />
<line x1="681.10" y1="53.53" x2="677.30" y2="53.53" stroke="#111" stroke-width="1.3" />
<line x1="403.80" y1="82.45" x2="409.30" y2="82.45" stroke="#111" stroke-width="1.3" />
<line x1="681.10" y1="82.45" x2="675.60" y2="82.45" stroke="#111" stroke-width="1.3" />
<line x1="403.80" y1="111.38" x2="407.60" y2="111.38" stroke="#111" stroke-width="1.3" />
<line x1="681.10" y1="111.38" x2="677.30" y2="111.38" stroke="#111" stroke-width="1.3" />
<line x1="403.80" y1="140.30" x2="409.30" y2="140.30" stroke="#111" stroke-width="1.3" />
<line x1="681.10" y1="140.30" x2="675.60" y2="140.30" stroke="#111" stroke-width="1.3" />
<line x1="403.80" y1="169.23" x2="407.60" y2="169.23" stroke="#111" stroke-width="1.3" />
<line x1="681.10" y1="169.23" x2="677.30" y2="169.23" stroke="#111" stroke-width="1.3" />
<line x1="403.80" y1="193.67" x2="409.60" y2="193.67" stroke="#111" stroke-width="1.3" />
<line x1="681.10" y1="193.67" x2="675.30" y2="193.67" stroke="#111" stroke-width="1.3" />
<line x1="403.80" y1="222.28" x2="407.60" y2="222.28" stroke="#111" stroke-width="1.3" />
<line x1="681.10" y1="222.28" x2="677.30" y2="222.28" stroke="#111" stroke-width="1.3" />
<line x1="403.80" y1="250.88" x2="409.60" y2="250.88" stroke="#111" stroke-width="1.3" />
<line x1="681.10" y1="250.88" x2="675.30" y2="250.88" stroke="#111" stroke-width="1.3" />
<line x1="403.80" y1="279.49" x2="407.60" y2="279.49" stroke="#111" stroke-width="1.3" />
<line x1="681.10" y1="279.49" x2="677.30" y2="279.49" stroke="#111" stroke-width="1.3" />
<line x1="403.80" y1="308.09" x2="409.60" y2="308.09" stroke="#111" stroke-width="1.3" />
<line x1="681.10" y1="308.09" x2="675.30" y2="308.09" stroke="#111" stroke-width="1.3" />
<line x1="403.80" y1="336.69" x2="407.60" y2="336.69" stroke="#111" stroke-width="1.3" />
<line x1="681.10" y1="336.69" x2="677.30" y2="336.69" stroke="#111" stroke-width="1.3" />
<text transform="translate(355.90,31.00) scale(0.92,1)" font-size="20.7" text-anchor="middle" fill="#000" >0</text>
<text transform="translate(360.84,31.00) scale(0.92,1)" font-size="20.7" text-anchor="start" fill="#000" >.</text>
<text transform="translate(375.10,31.00) scale(0.92,1)" font-size="20.7" text-anchor="middle" fill="#000" >2</text>
<text transform="translate(384.70,31.00) scale(0.92,1)" font-size="20.7" text-anchor="middle" fill="#000" >4</text>
<text transform="translate(394.30,31.00) scale(0.92,1)" font-size="20.7" text-anchor="middle" fill="#000" >6</text>
<text transform="translate(355.90,88.85) scale(0.92,1)" font-size="20.7" text-anchor="middle" fill="#000" >0</text>
<text transform="translate(360.84,88.85) scale(0.92,1)" font-size="20.7" text-anchor="start" fill="#000" >.</text>
<text transform="translate(375.10,88.85) scale(0.92,1)" font-size="20.7" text-anchor="middle" fill="#000" >2</text>
<text transform="translate(384.70,88.85) scale(0.92,1)" font-size="20.7" text-anchor="middle" fill="#000" >4</text>
<text transform="translate(394.30,88.85) scale(0.92,1)" font-size="20.7" text-anchor="middle" fill="#000" >4</text>
<text transform="translate(355.90,146.70) scale(0.92,1)" font-size="20.7" text-anchor="middle" fill="#000" >0</text>
<text transform="translate(360.84,146.70) scale(0.92,1)" font-size="20.7" text-anchor="start" fill="#000" >.</text>
<text transform="translate(375.10,146.70) scale(0.92,1)" font-size="20.7" text-anchor="middle" fill="#000" >2</text>
<text transform="translate(384.70,146.70) scale(0.92,1)" font-size="20.7" text-anchor="middle" fill="#000" >4</text>
<text transform="translate(394.30,146.70) scale(0.92,1)" font-size="20.7" text-anchor="middle" fill="#000" >2</text>
<text transform="translate(363.70,200.77) scale(0.92,1)" font-size="20.7" text-anchor="middle" fill="#000" >0</text>
<text transform="translate(368.69,200.77) scale(0.92,1)" font-size="20.7" text-anchor="start" fill="#000" >.</text>
<text transform="translate(383.10,200.77) scale(0.92,1)" font-size="20.7" text-anchor="middle" fill="#000" >0</text>
<text transform="translate(392.80,200.77) scale(0.92,1)" font-size="20.7" text-anchor="middle" fill="#000" >9</text>
<text transform="translate(363.70,257.98) scale(0.92,1)" font-size="20.7" text-anchor="middle" fill="#000" >0</text>
<text transform="translate(368.69,257.98) scale(0.92,1)" font-size="20.7" text-anchor="start" fill="#000" >.</text>
<text transform="translate(383.10,257.98) scale(0.92,1)" font-size="20.7" text-anchor="middle" fill="#000" >0</text>
<text transform="translate(392.80,257.98) scale(0.92,1)" font-size="20.7" text-anchor="middle" fill="#000" >6</text>
<text transform="translate(363.70,315.19) scale(0.92,1)" font-size="20.7" text-anchor="middle" fill="#000" >0</text>
<text transform="translate(368.69,315.19) scale(0.92,1)" font-size="20.7" text-anchor="start" fill="#000" >.</text>
<text transform="translate(383.10,315.19) scale(0.92,1)" font-size="20.7" text-anchor="middle" fill="#000" >0</text>
<text transform="translate(392.80,315.19) scale(0.92,1)" font-size="20.7" text-anchor="middle" fill="#000" >3</text>
<text transform="translate(363.70,372.40) scale(0.92,1)" font-size="20.7" text-anchor="middle" fill="#000" >0</text>
<text transform="translate(368.69,372.40) scale(0.92,1)" font-size="20.7" text-anchor="start" fill="#000" >.</text>
<text transform="translate(383.10,372.40) scale(0.92,1)" font-size="20.7" text-anchor="middle" fill="#000" >0</text>
<text transform="translate(392.80,372.40) scale(0.92,1)" font-size="20.7" text-anchor="middle" fill="#000" >0</text>
<text transform="translate(382.80,385.80) scale(0.92,1)" font-size="20.7" text-anchor="middle" fill="#000" >0</text>
<text transform="translate(387.87,385.80) scale(0.92,1)" font-size="20.7" text-anchor="start" fill="#000" >.</text>
<text transform="translate(402.50,385.80) scale(0.92,1)" font-size="20.7" text-anchor="middle" fill="#000" >0</text>
<text transform="translate(412.35,385.80) scale(0.92,1)" font-size="20.7" text-anchor="middle" fill="#000" >0</text>
<text transform="translate(422.20,385.80) scale(0.92,1)" font-size="20.7" text-anchor="middle" fill="#000" >0</text>
<text transform="translate(464.87,385.80) scale(0.92,1)" font-size="20.7" text-anchor="middle" fill="#000" >0</text>
<text transform="translate(469.93,385.80) scale(0.92,1)" font-size="20.7" text-anchor="start" fill="#000" >.</text>
<text transform="translate(484.56,385.80) scale(0.92,1)" font-size="20.7" text-anchor="middle" fill="#000" >0</text>
<text transform="translate(494.42,385.80) scale(0.92,1)" font-size="20.7" text-anchor="middle" fill="#000" >0</text>
<text transform="translate(504.26,385.80) scale(0.92,1)" font-size="20.7" text-anchor="middle" fill="#000" >5</text>
<text transform="translate(546.93,385.80) scale(0.92,1)" font-size="20.7" text-anchor="middle" fill="#000" >0</text>
<text transform="translate(552.00,385.80) scale(0.92,1)" font-size="20.7" text-anchor="start" fill="#000" >.</text>
<text transform="translate(566.63,385.80) scale(0.92,1)" font-size="20.7" text-anchor="middle" fill="#000" >0</text>
<text transform="translate(576.48,385.80) scale(0.92,1)" font-size="20.7" text-anchor="middle" fill="#000" >1</text>
<text transform="translate(586.33,385.80) scale(0.92,1)" font-size="20.7" text-anchor="middle" fill="#000" >0</text>
<text transform="translate(629.00,385.80) scale(0.92,1)" font-size="20.7" text-anchor="middle" fill="#000" >0</text>
<text transform="translate(634.06,385.80) scale(0.92,1)" font-size="20.7" text-anchor="start" fill="#000" >.</text>
<text transform="translate(648.70,385.80) scale(0.92,1)" font-size="20.7" text-anchor="middle" fill="#000" >0</text>
<text transform="translate(658.54,385.80) scale(0.92,1)" font-size="20.7" text-anchor="middle" fill="#000" >1</text>
<text transform="translate(668.39,385.80) scale(0.92,1)" font-size="20.7" text-anchor="middle" fill="#000" >5</text>
<text transform="translate(410.9,24.05) scale(0.93,1)" font-size="19" stroke="#000" stroke-width="0.3">(b)</text>
<text transform="translate(411.4,207.05) scale(0.93,1)" font-size="19" stroke="#000" stroke-width="0.3">(c)</text>
<text transform="translate(363.2,117.3) rotate(-90)" font-size="24.2" stroke="#000" stroke-width="0.45">λ</text>
<text transform="translate(369.8,104.2) rotate(-90) scale(0.6,1)" font-size="17.4">m</text>
<text transform="translate(362.4,296.6) rotate(-90) scale(1.22,1)" font-size="24.6" stroke="#000" stroke-width="0.45">Δ</text>
<text transform="translate(362.4,279.8) rotate(-90) scale(0.74,1)" font-size="24.6" font-style="italic" stroke="#000" stroke-width="0.45">E</text>
<text transform="translate(352.8,266.8) rotate(-90)" font-size="15.5" font-style="italic">e</text>
<g transform="translate(358.1,260.6) scale(0.88)" fill="none" stroke="#000" stroke-linecap="round"><path d="M0,0 C-1.2,1.2 -1.0,3.2 1.4,4.1 C4,5 7,5.4 9.8,6.2 C12.5,7 14.6,8.2 15,10.4" stroke-width="1.45"/><path d="M4,2.6 L4,7.2" stroke-width="1.5"/><circle cx="0.1" cy="0" r="1.05" fill="#000" stroke="none"/><circle cx="14.9" cy="10.6" r="1.0" fill="#000" stroke="none"/></g>
<text transform="translate(517.4,422.7) scale(0.86,1)" font-size="24.8">1</text>
<text transform="translate(530.0,423.9) scale(1.2,1)" font-size="29.5">/</text>
<text transform="translate(540.6,422.5) scale(0.68,1)" font-size="24.7">N</text>
<text x="552.6" y="413.3" font-size="16.4">2.0</text>
</svg></div>
</body></html>
